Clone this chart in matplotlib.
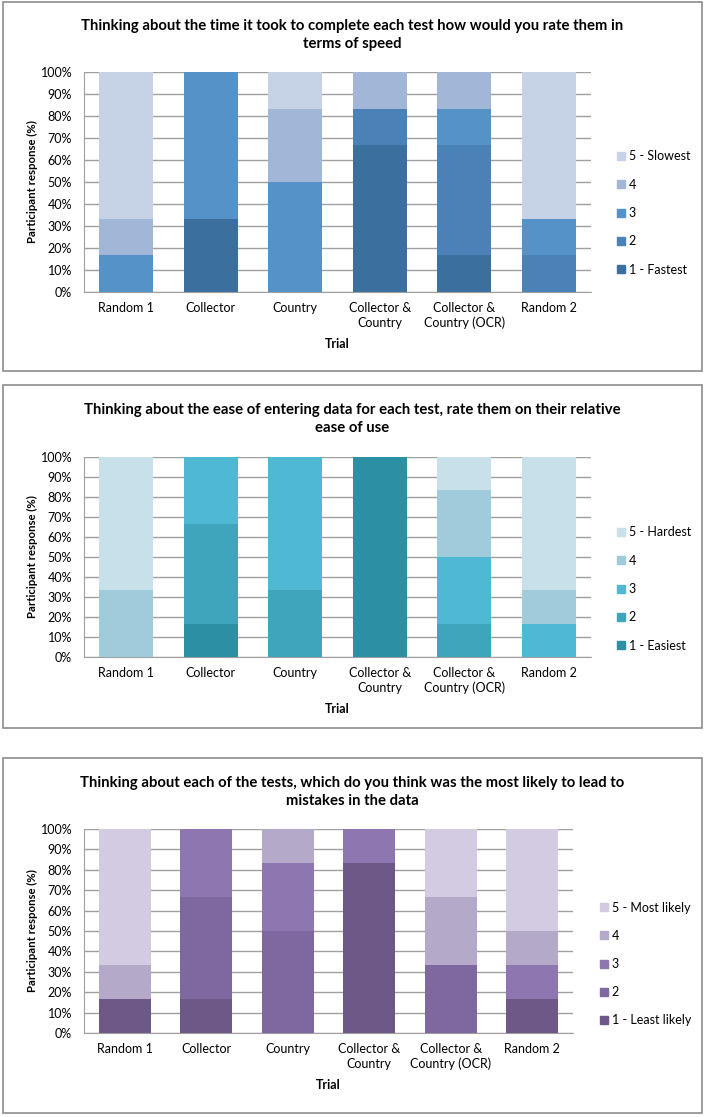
import matplotlib.pyplot as plt
import numpy as np
from matplotlib.patches import Rectangle, Patch
from matplotlib.ticker import PercentFormatter

plt.rcParams['font.family'] = ['Lato', 'DejaVu Sans']

trials = ['Random 1', 'Collector', 'Country', 'Collector &\nCountry',
          'Collector &\nCountry (OCR)', 'Random 2']

# percentages per rating (1..5) for each trial
speed_1 = [0, 33.3, 0, 66.7, 16.7, 0]
speed_2 = [0, 0, 0, 16.7, 50.0, 16.7]
speed_3 = [16.7, 66.7, 50.0, 0, 16.7, 16.7]
speed_4 = [16.7, 0, 33.3, 16.7, 16.7, 0]
speed_5 = [66.7, 0, 16.7, 0, 0, 66.7]

ease_1 = [0, 16.7, 0, 100.0, 0, 0]
ease_2 = [0, 50.0, 33.3, 0, 16.7, 0]
ease_3 = [0, 33.3, 66.7, 0, 33.3, 16.7]
ease_4 = [33.3, 0, 0, 0, 33.3, 16.7]
ease_5 = [66.7, 0, 0, 0, 16.7, 66.7]

mist_1 = [16.7, 16.7, 0, 83.3, 0, 16.7]
mist_2 = [0, 50.0, 50.0, 0, 33.3, 0]
mist_3 = [0, 33.3, 33.3, 16.7, 0, 16.7]
mist_4 = [16.7, 0, 16.7, 0, 33.3, 16.7]
mist_5 = [66.7, 0, 0, 0, 33.3, 50.0]

speed_labels = ['1 - Fastest', '2', '3', '4', '5 - Slowest']
ease_labels = ['1 - Easiest', '2', '3', '4', '5 - Hardest']
mist_labels = ['1 - Least likely', '2', '3', '4', '5 - Most likely']

blue = ['#3b6f9e', '#4a82b8', '#5592c8', '#a2b6d8', '#c6d2e6']
teal = ['#2c8fa4', '#3fa5bd', '#4fb8d2', '#a0cbdb', '#c7e0ea']
purple = ['#6e5888', '#7f679f', '#8e76b0', '#b5a9ca', '#d2cbe1']

W, H = 706, 1117
fig = plt.figure(figsize=(W / 100, H / 100), dpi=100)

# title, series, legend labels, colours, frame (top, bottom), plot (left, right, top, bottom),
# title centre y, legend (x, centre y)
panels = [
    ('Thinking about the time it took to complete each test how would you rate them in\nterms of speed',
     [speed_1, speed_2, speed_3, speed_4, speed_5], speed_labels, blue,
     (2, 371), (84, 591, 72, 292), 35, (617, 213)),
    ('Thinking about the ease of entering data for each test, rate them on their relative\nease of use',
     [ease_1, ease_2, ease_3, ease_4, ease_5], ease_labels, teal,
     (385, 728), (84, 591, 457, 657), 419, (617, 589)),
    ('Thinking about each of the tests, which do you think was the most likely to lead to\nmistakes in the data',
     [mist_1, mist_2, mist_3, mist_4, mist_5], mist_labels, purple,
     (758, 1113), (84, 573, 829, 1033), 792, (600, 964)),
]

x = np.arange(len(trials))
for title, series, labels, colors, box, plot, title_y, leg in panels:
    # panel frame
    fig.patches.append(Rectangle((3 / W, 1 - box[1] / H), 699 / W, (box[1] - box[0]) / H,
                                 transform=fig.transFigure, fill=False,
                                 edgecolor='#8c8c8c', linewidth=1.2))
    fig.text(352 / W, 1 - title_y / H, title, ha='center', va='center',
             fontsize=10.75, fontweight='bold', linespacing=1.3)

    left, right, top, bot = plot
    ax = fig.add_axes([left / W, 1 - bot / H, (right - left) / W, (bot - top) / H])
    bottom = np.zeros(len(trials))
    for vals, col in zip(series, colors):
        ax.bar(x, vals, 0.64, bottom=bottom, color=col, zorder=3)
        bottom += np.array(vals)

    ax.set_xlim(-0.5, len(trials) - 0.5)
    ax.set_ylim(0, 100)
    ax.set_yticks(np.arange(0, 101, 10))
    ax.yaxis.set_major_formatter(PercentFormatter(decimals=0))
    ax.set_xticks(x)
    ax.set_xticklabels(trials, fontsize=9, linespacing=1.3)
    ax.tick_params(axis='x', length=0, pad=7)
    ax.tick_params(axis='y', length=0, labelsize=9, pad=8.5)
    ax.grid(axis='y', color='#a0a0a0', linewidth=1, zorder=0)
    for s in ['top', 'right']:
        ax.spines[s].set_visible(False)
    for s in ['left', 'bottom']:
        ax.spines[s].set_color('#a0a0a0')
    ax.set_xlabel('Trial', fontsize=9, fontweight='bold', labelpad=6)
    fig.text(32 / W, 1 - (top + bot) / 2 / H, 'Participant response (%)', rotation=90,
             ha='center', va='center', fontsize=8.2, fontweight='bold')

    handles = [Patch(color=c) for c in colors]
    ax.legend(handles[::-1], labels[::-1], loc='center left',
              bbox_to_anchor=(leg[0] / W, 1 - leg[1] / H), bbox_transform=fig.transFigure,
              frameon=False, fontsize=9, handlelength=0.6, handleheight=0.6,
              handletextpad=0.35, labelspacing=1.3, borderpad=0, borderaxespad=0)

plt.savefig('out.png', dpi=100)
